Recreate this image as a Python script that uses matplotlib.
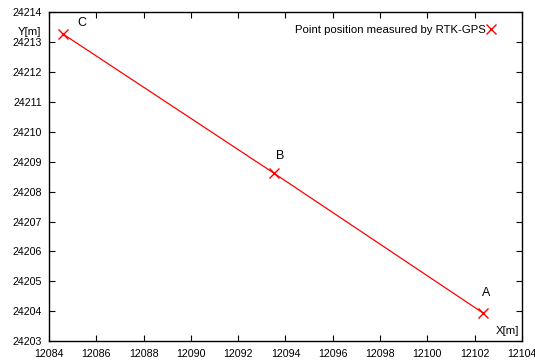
import matplotlib.pyplot as plt

plt.rcParams['font.family'] = ['Liberation Sans', 'DejaVu Sans']

# RTK-GPS measured points
names = ['C', 'B', 'A']
x_m = [12084.59, 12093.51, 12102.35]
y_m = [24213.28, 24208.62, 24203.94]

fig = plt.figure(figsize=(5.35, 3.6), dpi=100)
ax = fig.add_axes([0.0916, 0.0528, 0.884, 0.9125])

ax.plot(x_m, y_m, color='red', lw=0.9, marker='x', ms=7, mew=1.0)

offsets = {'C': (13.3, 7.9), 'B': (4.7, 12.6), 'A': (2.0, 14.2)}
for n, x, y in zip(names, x_m, y_m):
    dx, dy = offsets[n]
    ax.annotate(n, (x, y), xytext=(dx, dy), textcoords='offset points',
                fontsize=9, ha='center', va='center')

# key entry: marker only
ax.plot([], [], 'x', color='red', ms=7, mew=1.0, label='Point position measured by RTK-GPS')
leg = ax.legend(loc='center right', bbox_to_anchor=(0.941, 0.947), frameon=False,
                fontsize=8.2, handlelength=0.6, handletextpad=0.1, markerfirst=False,
                borderaxespad=0, borderpad=0)

ax.set_xlim(12084, 12104)
ax.set_ylim(24203, 24214)
ax.set_xticks(range(12084, 12105, 2))
ax.set_yticks(range(24203, 24215))
ax.tick_params(direction='in', top=True, right=True, labelsize=7.7, length=4)
ax.tick_params(axis='x', pad=6)
ax.tick_params(axis='y', pad=5)
for s in ax.spines.values():
    s.set_linewidth(1.0)

ax.text(-0.017, 0.94, 'Y[m]', transform=ax.transAxes, fontsize=8.2, ha='right', va='center')
ax.text(0.993, 0.03, 'X[m]', transform=ax.transAxes, fontsize=8.2, ha='right', va='center')

fig.savefig('out.png', dpi=100)
